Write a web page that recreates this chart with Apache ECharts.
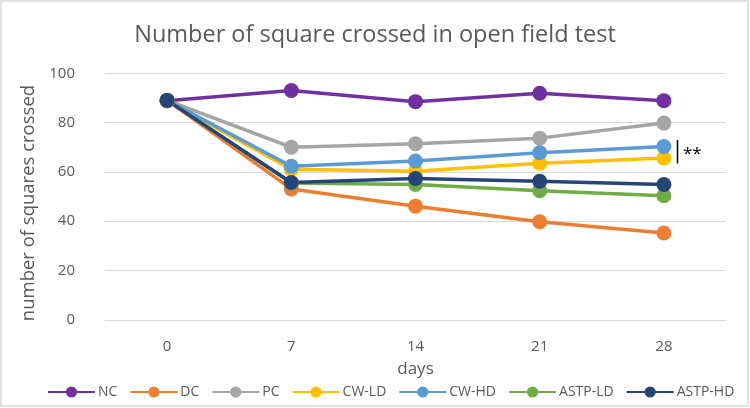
<!DOCTYPE html>
<html><head><meta charset="utf-8">
<script src="https://cdn.jsdelivr.net/npm/echarts@6/dist/echarts.min.js"></script>
<style>html,body{margin:0;padding:0;background:#fff}#c{width:750px;height:408px}</style>
</head><body><div id="c"></div>
<script>
const days = ['0', '7', '14', '21', '28'];
const seriesNames = ['NC', 'DC', 'PC', 'CW-LD', 'CW-HD', 'ASTP-LD', 'ASTP-HD'];
const NC = [88.9, 93.0, 88.5, 91.9, 88.9];
const DC = [89.0, 53.1, 46.1, 39.8, 35.2];
const PC = [89.0, 70.0, 71.4, 73.7, 79.8];
const CW_LD = [88.8, 61.1, 60.3, 63.5, 65.6];
const CW_HD = [89.0, 62.3, 64.4, 67.8, 70.3];
const ASTP_LD = [89.1, 55.5, 54.9, 52.4, 50.3];
const ASTP_HD = [89.0, 55.7, 57.3, 56.2, 54.9];
const yTicks = [0, 20, 40, 60, 80, 100];
const colors = ['#7030A0', '#ED7D31', '#A5A5A5', '#FFC000', '#5B9BD5', '#70AD47', '#264478'];
const allData = [NC, DC, PC, CW_LD, CW_HD, ASTP_LD, ASTP_HD];

const FONT = 'Open Sans';
const chart = echarts.init(document.getElementById('c'));
chart.setOption({
  animation: false,
  backgroundColor: '#fff',
  textStyle: { fontFamily: FONT },
  title: {
    text: 'Number of square crossed in open field test',
    left: 'center', top: 18,
    textStyle: { fontFamily: FONT, fontSize: 23.5, fontWeight: 'normal', color: '#595959' }
  },
  grid: { left: 105, right: 24, top: 73.3, bottom: 88.2 },
  legend: {
    data: seriesNames,
    bottom: 4, left: 42,
    itemWidth: 47, itemHeight: 14, itemGap: 12,
    textStyle: { fontFamily: FONT, fontSize: 14, color: '#595959', padding: [0, 0, 0, -2] }
  },
  xAxis: {
    type: 'category', data: days, boundaryGap: true,
    name: 'days', nameLocation: 'middle', nameGap: 41,
    nameTextStyle: { fontFamily: FONT, fontSize: 17, color: '#595959' },
    axisLine: { show: true, lineStyle: { color: '#d9d9d9', width: 1 } },
    axisTick: { show: false },
    axisLabel: { fontFamily: FONT, fontSize: 15, color: '#595959', margin: 19 }
  },
  yAxis: {
    type: 'value', min: 0, max: 100, interval: 20,
    name: 'number of squares crossed', nameLocation: 'middle', nameGap: 66, nameRotate: 90,
    nameTextStyle: { fontFamily: FONT, fontSize: 18.5, color: '#595959', padding: [0, 13, 0, 0] },
    axisLine: { show: false }, axisTick: { show: false },
    axisLabel: { fontFamily: FONT, fontSize: 15, color: '#595959', margin: 30,
      formatter: v => yTicks.includes(v) ? String(v) : '' },
    splitLine: { lineStyle: { color: '#d9d9d9', width: 1 } }
  },
  series: seriesNames.map((n, i) => ({
    name: n, type: 'line', data: allData[i],
    symbol: 'circle', symbolSize: 15,
    lineStyle: { width: 3.5, color: colors[i] },
    itemStyle: { color: colors[i] }
  })),
  graphic: [
    { type: 'rect', shape: { x: 1, y: 1, width: 747, height: 405 }, style: { fill: 'none', stroke: '#d9d9d9', lineWidth: 1.5 }, z: -1 },
    { type: 'line', shape: { x1: 677.5, y1: 140, x2: 677.5, y2: 163.5 }, style: { stroke: '#000', lineWidth: 1.5 } },
    { type: 'text', left: 683, top: 146, style: { text: '**', fontFamily: FONT, fontSize: 17, fill: '#000' } }
  ]
});
</script></body></html>
